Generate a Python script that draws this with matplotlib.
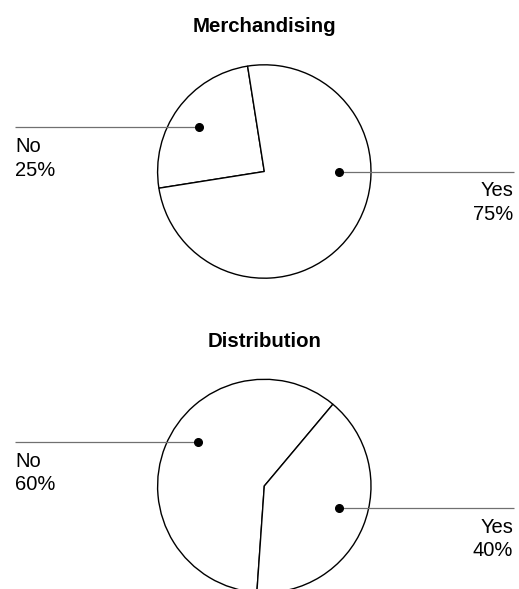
import matplotlib.pyplot as plt

plt.rcParams.update({
    'font.family': ['Liberation Sans', 'DejaVu Sans'],
    'font.size': 14.5,
})

# survey answers per question
titles = ['Merchandising', 'Distribution']
answers = ['No', 'Yes']
merch_pct = [25, 75]
distr_pct = [60, 40]

W, H = 519, 589
R = 106.7


def fy(y):
    # layout is measured from the top edge, matplotlib counts from the bottom
    return H - y


fig = plt.figure(figsize=(W / 100, H / 100), dpi=100)
ax = fig.add_axes([0, 0, 1, 1])

panels = [
    # values, start angle, centre y, title baseline, dot positions (No, Yes), label baselines
    (merch_pct, 99, 171.5, 32.5, [(198.7, 127.0), (339.3, 171.7)], [152.5, 196.5]),
    (distr_pct, 50, 486.0, 347.3, [(198.3, 441.7), (339.3, 507.7)], [466.7, 533.0]),
]

for title, (vals, start, cy, ty, dots, bases) in zip(titles, panels):
    ax.pie(vals, startangle=start, counterclock=True,
           center=(264.3, fy(cy)), radius=R, frame=True,
           wedgeprops=dict(facecolor='white', edgecolor='black', linewidth=1.0))
    ax.text(264.5, fy(ty), title, ha='center', va='baseline',
            fontsize=14.7, fontweight='bold')

    for i, (name, pct) in enumerate(zip(answers, vals)):
        dx, dy = dots[i]
        if name == 'No':
            x_end, x_txt, ha = 15, 15, 'left'
        else:
            x_end, x_txt, ha = 514, 513, 'right'
        ax.plot([dx, x_end], [fy(dy), fy(dy)], color='#707070', lw=0.9,
                solid_capstyle='butt', zorder=3)
        ax.plot(dx, fy(dy), 'o', color='black', ms=5.5, zorder=4)
        ax.text(x_txt, fy(bases[i]), name, ha=ha, va='baseline')
        ax.text(x_txt, fy(bases[i] + 23), f'{pct}%', ha=ha, va='baseline')

ax.set_xlim(0, W)
ax.set_ylim(0, H)
ax.set_aspect('equal')
ax.axis('off')

plt.savefig('out.png', dpi=100)
